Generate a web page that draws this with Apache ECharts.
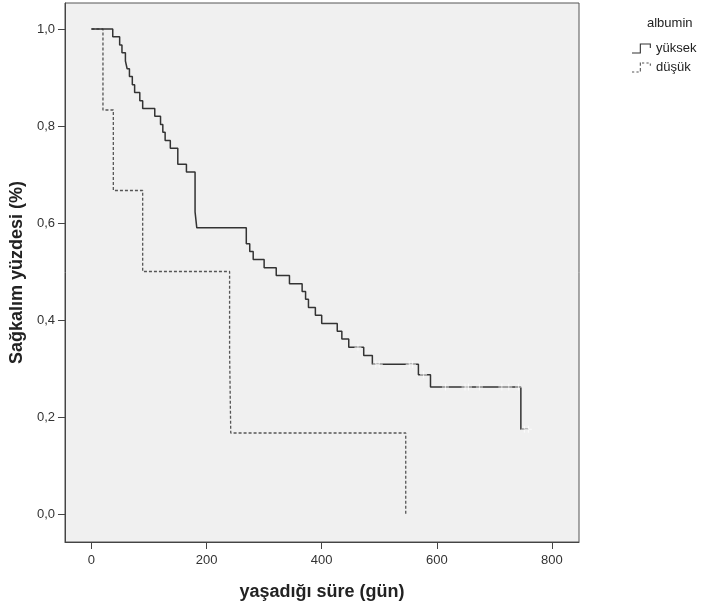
<!DOCTYPE html>
<html>
<head>
<meta charset="utf-8">
<script src="https://cdn.jsdelivr.net/npm/echarts@6/dist/echarts.min.js"></script>
<style>
  html, body { margin: 0; padding: 0; background: #fff; }
  #chart { width: 707px; height: 611px; }
</style>
</head>
<body>
<div id="chart"></div>
<script>
// Kaplan-Meier steps
var yuksekTime = [0, 37, 49, 53, 59, 62, 66, 71, 75, 84, 89, 110, 120, 124, 128, 137, 150, 165, 180, 183,
                  269, 275, 281, 300, 321, 344, 366, 372, 377, 389, 400, 427, 435, 447, 473, 488, 568, 589, 746, 759];
var yuksekSurv = [1.0, 0.984, 0.967, 0.951, 0.934, 0.918, 0.902, 0.885, 0.869, 0.852, 0.836, 0.820, 0.803, 0.787, 0.770, 0.754, 0.721, 0.705, 0.623, 0.590,
                  0.557, 0.541, 0.525, 0.508, 0.492, 0.475, 0.459, 0.443, 0.426, 0.410, 0.393, 0.377, 0.361, 0.344, 0.327, 0.309, 0.287, 0.262, 0.175, 0.175];
var yuksekCensorTime = [463, 494, 500, 552, 558, 577, 615, 649, 655, 674, 713, 725, 742, 752, 759];
var yuksekCensorSurv = [0.344, 0.309, 0.309, 0.309, 0.309, 0.287, 0.262, 0.262, 0.262, 0.262, 0.262, 0.262, 0.262, 0.175, 0.175];

var dusukTime = [0, 20, 38, 89, 240, 242, 546];
var dusukSurv = [1.0, 0.833, 0.667, 0.5, 0.333, 0.167, 0];

var xTicks = [0, 200, 400, 600, 800];
var yTicks = [0, 0.2, 0.4, 0.6, 0.8, 1.0];

function pairs(xs, ys) {
    var out = [];
    for (var i = 0; i < xs.length; i++) out.push([xs[i], ys[i]]);
    return out;
}

var plusPath = 'path://M3,0h1v3h3v1h-3v3h-1v-3h-3v-1h3z';
var iconSolid = 'path://M0,8L7,8L7,0L17,0L17,4L16,4L16,1L8,1L8,9L0,9Z';
var iconDash = 'path://M0,8h2v1h-2z M4,8h2v1h-2z M7,5h1v3h-1z M7,0h1v3h-1z M9,0h2v1h-2z M13,0h2v1h-2z M16,1h1v2h-1z';

var myChart = echarts.init(document.getElementById('chart'));

var option = {
    backgroundColor: '#fff',
    animation: false,
    textStyle: { fontFamily: 'Liberation Sans, Arial, sans-serif' },
    grid: {
        left: 64, right: 128, top: 3, bottom: 69,
        show: true,
        backgroundColor: '#f0f0f0',
        borderColor: '#555',
        borderWidth: 1
    },
    graphic: [{
        type: 'text',
        left: 647,
        top: 17,
        style: { text: 'albumin', fontSize: 13, fill: '#222', fontFamily: 'Liberation Sans, Arial, sans-serif' }
    }],
    legend: {
        orient: 'vertical',
        left: 632,
        top: 42,
        itemWidth: 19,
        itemHeight: 10,
        itemGap: 6,
        padding: 0,
        itemStyle: { borderWidth: 0 },
        textStyle: { fontSize: 13, color: '#222' },
        data: [
            { name: 'yüksek', icon: iconSolid },
            { name: 'düşük', icon: iconDash }
        ]
    },
    xAxis: {
        type: 'value',
        min: -46,
        max: 847,
        name: 'yaşadığı süre (gün)',
        nameLocation: 'middle',
        nameGap: 41,
        nameTextStyle: { fontWeight: 'bold', fontSize: 18, color: '#222' },
        axisLine: { show: true, onZero: false, lineStyle: { color: '#444' } },
        axisTick: { show: true, length: 7, customValues: xTicks, lineStyle: { color: '#444' } },
        axisLabel: { customValues: xTicks, margin: 12, fontSize: 13, color: '#333' },
        splitLine: { show: false }
    },
    yAxis: {
        type: 'value',
        min: -0.0577,
        max: 1.0536,
        name: 'Sağkalım yüzdesi (%)',
        nameLocation: 'middle',
        nameGap: 33,
        nameTextStyle: { fontWeight: 'bold', fontSize: 18, color: '#222' },
        axisLine: { show: true, onZero: false, lineStyle: { color: '#444' } },
        axisTick: { show: true, length: 7, customValues: yTicks, lineStyle: { color: '#444' } },
        axisLabel: {
            customValues: yTicks,
            margin: 10,
            fontSize: 13,
            color: '#333',
            formatter: function (v) { return v.toFixed(1).replace('.', ','); }
        },
        splitLine: { show: false }
    },
    series: [
        {
            name: 'düşük',
            type: 'line',
            step: 'end',
            symbol: 'none',
            clip: false,
            data: pairs(dusukTime, dusukSurv),
            itemStyle: { color: '#555' },
            lineStyle: { color: '#555', width: 1.3, type: [3, 2] }
        },
        {
            name: 'yüksek',
            type: 'line',
            step: 'end',
            symbol: 'none',
            clip: false,
            data: pairs(yuksekTime, yuksekSurv),
            itemStyle: { color: '#333' },
            lineStyle: { color: '#333', width: 1.5 }
        },
        {
            name: 'yüksek sansür',
            type: 'scatter',
            symbol: plusPath,
            symbolSize: 7,
            silent: true,
            z: 5,
            data: pairs(yuksekCensorTime, yuksekCensorSurv),
            itemStyle: { color: '#fff' }
        }
    ]
};

myChart.setOption(option);
</script>
</body>
</html>
